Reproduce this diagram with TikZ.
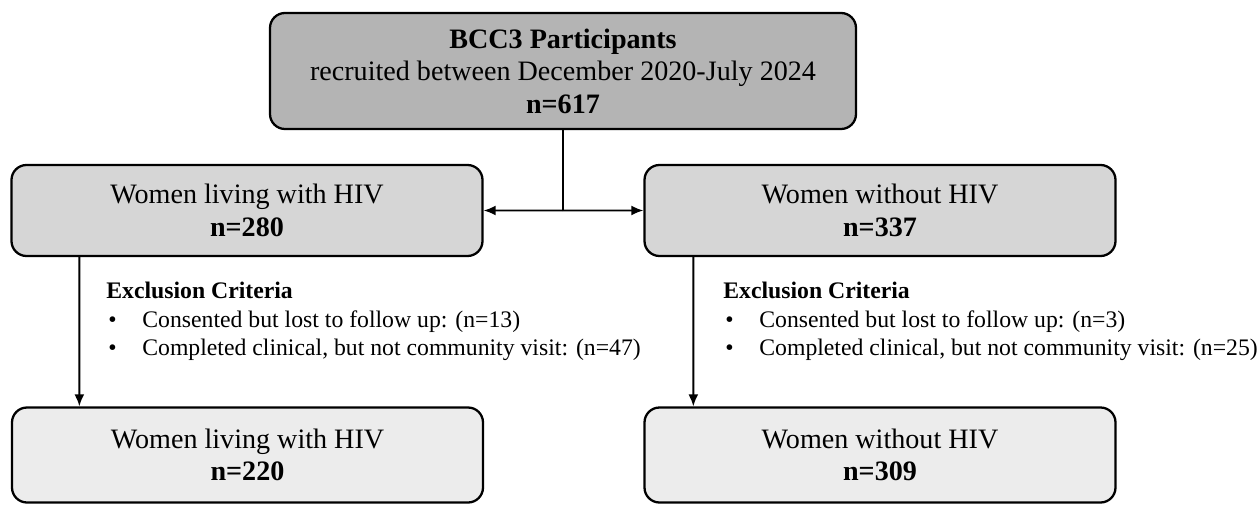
\documentclass[tikz,border=0pt]{standalone}
\usepackage{fontspec}
\setmainfont{Liberation Serif}
\usetikzlibrary{arrows.meta}
\newcommand{\bul}{\makebox[0.72cm][l]{\hspace{0.04cm}\textbullet}}

\begin{document}
\begin{tikzpicture}[scale=0.2]
        \tikzstyle{every node}+=[inner sep=0pt]
        \tikzstyle{box}=[draw=black, line width=1.3pt, rounded corners=0.3cm, align=center, font=\fontsize{16}{18.5}\selectfont]
        \tikzstyle{topbox}=[box, fill={rgb,255:red,180;green,180;blue,180}, minimum width=11.72cm, minimum height=2.32cm]
        \tikzstyle{midbox}=[box, fill={rgb,255:red,214;green,214;blue,214}, minimum width=9.42cm, minimum height=1.82cm]
        \tikzstyle{botbox}=[box, fill={rgb,255:red,236;green,236;blue,236}, minimum width=9.42cm, minimum height=1.9cm]
        \tikzstyle{excl}=[anchor=north west, align=left, font=\fontsize{13.5}{16.2}\selectfont]
        \tikzstyle{line}=[black, line width=1.1pt]
        \tikzstyle{arr}=[line, -{Latex[length=2.4mm,width=2mm]}]
        \useasboundingbox (0,0) rectangle (125.9,-50.6);
        % boxes
        \node [topbox] (all) at (56.3,-7.1) {\textbf{BCC3 Participants}\\recruited between December 2020-July 2024\\\textbf{n=617}};
        \node [midbox] (hivL) at (24.7,-21.05) {Women living with HIV\\\textbf{n=280}};
        \node [midbox] (noL) at (88.0,-21.05) {Women without HIV\\\textbf{n=337}};
        \node [botbox] (hivF) at (24.75,-45.5) {Women living with HIV\\\textbf{n=220}};
        \node [botbox] (noF) at (88.0,-45.5) {Women without HIV\\\textbf{n=309}};
        % exclusion text
        \node [excl] (exHiv) at (10.6,-28.2) {\textbf{Exclusion Criteria}\\\bul Consented but lost to follow up: (n=13)\\\bul Completed clinical, but not community visit: (n=47)};
        \node [excl] (exNo) at (72.3,-28.2) {\textbf{Exclusion Criteria}\\\bul Consented but lost to follow up: (n=3)\\\bul Completed clinical, but not community visit: (n=25)};
        % connectors
        \coordinate (split) at (all.south |- hivL.east);
        \draw [line] (all.south) -- (split);
        \draw [arr] (split) -- (hivL.east);
        \draw [arr] (split) -- (noL.west);
        \draw [arr] (hivL.south west) ++(6.9,0) coordinate (dropL) -- (dropL |- hivF.north);
        \draw [arr] (noL.south west) ++(5.0,0) coordinate (dropR) -- (dropR |- noF.north);
        \end{tikzpicture}
\end{document}
